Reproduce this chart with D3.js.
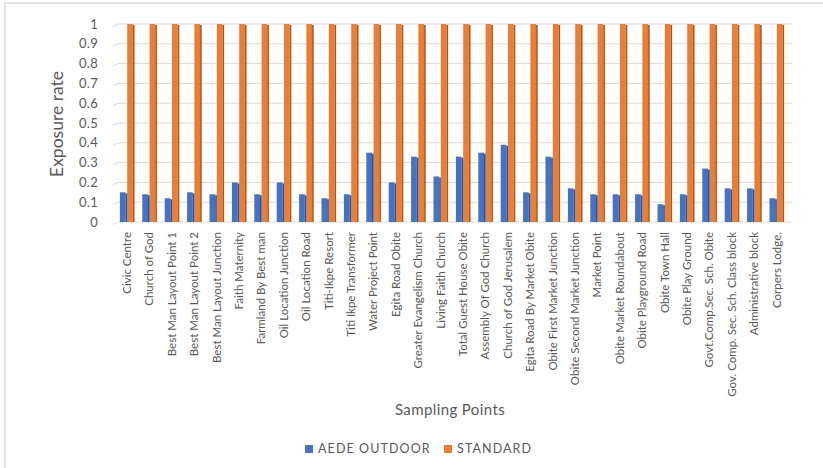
<!DOCTYPE html>
<html>
<head>
<meta charset="utf-8">
<script src="https://cdn.jsdelivr.net/npm/d3@7"></script>
<style>
  html, body { margin: 0; padding: 0; background: #fff; }
  svg { display: block; }
</style>
</head>
<body>
<script>
const categories = [
  "Civic Centre", "Church of God", "Best Man Layout Point 1", "Best Man Layout Point 2",
  "Best Man Layout Junction", "Faith Maternity", "Farmland By Best man", "Oil Location Junction",
  "Oil Location Road", "Titi-Ikpe Resort", "Titi Ikpe Transformer", "Water Project Point",
  "Egita Road Obite", "Greater Evangelism Church", "Living Faith Church", "Total Guest House Obite",
  "Assembly Of God Church", "Church of God Jerusalem", "Egita Road By Market Obite",
  "Obite First Market Junction", "Obite Second Market Junction", "Market Point",
  "Obite Market Roundabout", "Obite Playground Road", "Obite Town Hall", "Obite Play Ground",
  "Govt.Comp.Sec. Sch. Obite", "Gov. Comp. Sec. Sch. Class block", "Administrative block",
  "Corpers Lodge."
];
const aedeOutdoor = [0.15, 0.14, 0.12, 0.15, 0.14, 0.20, 0.14, 0.20, 0.14, 0.12, 0.14, 0.35,
  0.20, 0.33, 0.23, 0.33, 0.35, 0.39, 0.15, 0.33, 0.17, 0.14, 0.14, 0.14, 0.09, 0.14,
  0.27, 0.17, 0.17, 0.12];
const standard = [1, 1, 1, 1, 1, 1, 1, 1, 1, 1, 1, 1, 1, 1, 1, 1, 1, 1, 1, 1, 1, 1, 1, 1, 1, 1, 1, 1, 1, 1];
const seriesNames = ["AEDE OUTDOOR", "STANDARD"];
const yTicks = [0, 0.1, 0.2, 0.3, 0.4, 0.5, 0.6, 0.7, 0.8, 0.9, 1];
const yTickLabels = ["0", "0.1", "0.2", "0.3", "0.4", "0.5", "0.6", "0.7", "0.8", "0.9", "1"];

const W = 823, H = 468;
const colors = { "AEDE OUTDOOR": "#4472C4", "STANDARD": "#ED7D31" };
const sideColors = { "AEDE OUTDOOR": "#2F528F", "STANDARD": "#A9561F" };
const textColor = "#595959";
const font = "Lato, 'Liberation Sans', sans-serif";

const svg = d3.select("body").append("svg").attr("width", W).attr("height", H);

// chart border
svg.append("rect").attr("x", 5).attr("y", 3).attr("width", W + 20).attr("height", H + 20)
  .attr("fill", "none").attr("stroke", "#e3e3e3").attr("stroke-width", 2);

const x0 = d3.scaleBand().domain(categories).range([115.3, 787.3]).padding(0);
const x1 = d3.scaleBand().domain(seriesNames).range([4.6, 19.2]).padding(0);
const y = d3.scaleLinear().domain([0, 1]).range([222, 24]);

// gridlines with small perspective
const grid = svg.append("g");
yTicks.forEach(t => {
  const yy = y(t);
  grid.append("path")
    .attr("d", `M113,${yy + 2.5} L118,${yy} L792,${yy}`)
    .attr("fill", "none").attr("stroke", "#d9d9d9").attr("stroke-width", 1);
});

// y tick labels
svg.append("g").selectAll("text").data(yTicks).join("text")
  .attr("x", 98).attr("y", d => y(d)).attr("dy", "0.35em")
  .attr("text-anchor", "end").attr("font-family", font).attr("font-size", 13)
  .attr("letter-spacing", 0.3)
  .attr("fill", textColor).text((d, i) => yTickLabels[i]);

// bars
const data = categories.map((c, i) => ({ cat: c, vals: [
  { s: "AEDE OUTDOOR", v: aedeOutdoor[i] },
  { s: "STANDARD", v: standard[i] }
]}));

const groups = svg.append("g").selectAll("g").data(data).join("g")
  .attr("transform", d => `translate(${x0(d.cat)},0)`);

groups.selectAll("rect.front").data(d => d.vals).join("rect")
  .attr("class", "front")
  .attr("x", d => x1(d.s))
  .attr("y", d => y(d.v))
  .attr("width", x1.bandwidth() - 1.6)
  .attr("height", d => y(0) - y(d.v))
  .attr("fill", d => colors[d.s]);

groups.selectAll("rect.side").data(d => d.vals).join("rect")
  .attr("class", "side")
  .attr("x", d => x1(d.s) + x1.bandwidth() - 1.6)
  .attr("y", d => y(d.v) + 1)
  .attr("width", 1.6)
  .attr("height", d => y(0) - y(d.v) - 1)
  .attr("fill", d => sideColors[d.s]);

// category labels
svg.append("g").selectAll("text").data(categories).join("text")
  .attr("transform", d => `translate(${x0(d) + x0.bandwidth() / 2 + 0.5},232) rotate(-90)`)
  .attr("dy", "0.35em").attr("text-anchor", "end")
  .attr("font-family", font).attr("font-size", 11.5)
  .attr("fill", textColor).text(d => d);

// axis titles
svg.append("text")
  .attr("transform", `translate(57,124) rotate(-90)`)
  .attr("dy", "0.35em").attr("text-anchor", "middle")
  .attr("font-family", font).attr("font-size", 17.5)
  .attr("fill", textColor).text("Exposure rate");

svg.append("text")
  .attr("x", 450).attr("y", 410).attr("dy", "0.35em").attr("text-anchor", "middle")
  .attr("font-family", font).attr("font-size", 15).attr("letter-spacing", 0.4)
  .attr("fill", textColor).text("Sampling Points");

// legend
const legendPos = [{ s: "AEDE OUTDOOR", x: 305 }, { s: "STANDARD", x: 444 }];
const lg = svg.append("g").selectAll("g").data(legendPos).join("g")
  .attr("transform", d => `translate(${d.x},445)`);
lg.append("rect").attr("width", 8).attr("height", 8).attr("fill", d => colors[d.s]);
lg.append("text").attr("x", 13).attr("y", 4).attr("dy", "0.35em")
  .attr("font-family", font).attr("font-size", 12.5).attr("letter-spacing", 1.1)
  .attr("fill", textColor).text(d => d.s);
</script>
</body>
</html>
